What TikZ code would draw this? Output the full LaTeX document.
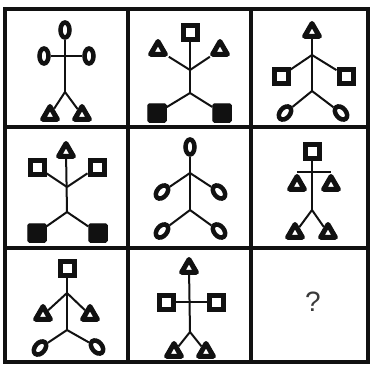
\documentclass[tikz,border=0pt]{standalone}
\usepackage{fontspec}
\newfontfamily\qfont{Liberation Sans}
\usepackage{xcolor}
\usetikzlibrary{shapes.geometric}
\definecolor{InkBlack}{HTML}{111111}
\definecolor{QGray}{HTML}{3a3a3a}

\begin{document}
\begin{tikzpicture}[
    x=1pt, y=-1pt,
    grid/.style={draw=InkBlack, line width=4.5pt},
    stem/.style={draw=InkBlack, line width=2pt},
    oval/.style={ellipse, draw=InkBlack, line width=4.5pt, fill=white, inner sep=0pt,
                 minimum width=9pt, minimum height=15pt},
    ovalL/.style={oval, minimum width=10pt, rotate=-40},
    ovalR/.style={oval, minimum width=10pt, rotate=40},
    sqbox/.style={rectangle, draw=InkBlack, line width=5pt, fill=white, inner sep=0pt,
                  minimum size=14pt},
    blkbox/.style={rectangle, rounded corners=1.5pt, draw=InkBlack, fill=InkBlack,
                   line width=1pt, inner sep=0pt, minimum size=18.5pt},
    tri/.style={regular polygon, regular polygon sides=3, draw=InkBlack, line width=5pt,
                line join=round, fill=white, inner sep=0pt, minimum size=17pt},
    qmark/.style={font=\qfont\fontsize{28}{30}\selectfont, text=QGray}
]
\useasboundingbox (0,0) rectangle (371,364);

\draw[grid] (5,9) rectangle (368,362);
\draw[grid] (128,9) -- (128,362);
\draw[grid] (251,9) -- (251,362);
\draw[grid] (5,127) -- (368,127);
\draw[grid] (5,248) -- (368,248);

% row 1
\node[oval] (o1t) at (65,30) {};
\node[oval] (o1l) at (44,56) {};
\node[oval] (o1r) at (89,56) {};
\coordinate (j1) at (65,92);
\node[tri] (t1l) at (50,115) {};
\node[tri] (t1r) at (82,115) {};
\draw[stem] (o1l) -- (o1r);
\draw[stem] (o1t) -- (j1);
\draw[stem] (j1) -- (t1l);
\draw[stem] (j1) -- (t1r);

\node[sqbox] (s2t) at (190,32) {};
\node[tri] (t2l) at (158,50) {};
\node[tri] (t2r) at (220,50) {};
\coordinate (j2a) at (190,70);
\coordinate (j2b) at (190,93);
\node[blkbox] (b2l) at (157,113) {};
\node[blkbox] (b2r) at (222,113) {};
\draw[stem] (s2t) -- (j2b);
\draw[stem] (j2a) -- (t2l);
\draw[stem] (j2a) -- (t2r);
\draw[stem] (j2b) -- (b2l);
\draw[stem] (j2b) -- (b2r);

\node[tri] (t3t) at (312,32) {};
\coordinate (j3a) at (312,55);
\coordinate (j3b) at (312,91);
\node[sqbox] (s3l) at (281,76) {};
\node[sqbox] (s3r) at (346,76) {};
\node[ovalL] (o3l) at (285,113) {};
\node[ovalR] (o3r) at (341,113) {};
\draw[stem] (t3t) -- (j3b);
\draw[stem] (j3a) -- (s3l);
\draw[stem] (j3a) -- (s3r);
\draw[stem] (j3b) -- (o3l);
\draw[stem] (j3b) -- (o3r);

% row 2
\node[tri] (t4t) at (66,152) {};
\node[sqbox] (s4l) at (37,167) {};
\node[sqbox] (s4r) at (97,167) {};
\coordinate (j4a) at (67,187);
\coordinate (j4b) at (67,212);
\node[blkbox] (b4l) at (37,233) {};
\node[blkbox] (b4r) at (98,233) {};
\draw[stem] (t4t) -- (j4b);
\draw[stem] (j4a) -- (s4l);
\draw[stem] (j4a) -- (s4r);
\draw[stem] (j4b) -- (b4l);
\draw[stem] (j4b) -- (b4r);

\node[oval] (o5t) at (190,147) {};
\coordinate (j5a) at (190,173);
\coordinate (j5b) at (190,210);
\node[ovalL] (o5a) at (162,192) {};
\node[ovalR] (o5b) at (219,192) {};
\node[ovalL] (o5c) at (162,231) {};
\node[ovalR] (o5d) at (219,231) {};
\draw[stem] (o5t) -- (j5b);
\draw[stem] (j5a) -- (o5a);
\draw[stem] (j5a) -- (o5b);
\draw[stem] (j5b) -- (o5c);
\draw[stem] (j5b) -- (o5d);

\node[sqbox] (s6t) at (312,151) {};
\node[tri] (t6l) at (297,185) {};
\node[tri] (t6r) at (331,185) {};
\coordinate (j6) at (312,210);
\node[tri] (t6c) at (295,233) {};
\node[tri] (t6d) at (328,233) {};
\draw[stem] (t6l.corner 1) -- (t6r.corner 1);
\draw[stem] (s6t) -- (j6);
\draw[stem] (j6) -- (t6c);
\draw[stem] (j6) -- (t6d);

% row 3
\node[sqbox] (s7t) at (67,268) {};
\coordinate (j7a) at (67,293);
\coordinate (j7b) at (67,330);
\node[tri] (t7l) at (43,315) {};
\node[tri] (t7r) at (90,315) {};
\node[ovalL] (o7l) at (40,348) {};
\node[ovalR] (o7r) at (97,347) {};
\draw[stem] (s7t) -- (j7b);
\draw[stem] (j7a) -- (t7l);
\draw[stem] (j7a) -- (t7r);
\draw[stem] (j7b) -- (o7l);
\draw[stem] (j7b) -- (o7r);

\node[tri] (t8t) at (189,268) {};
\node[sqbox] (s8l) at (166,302) {};
\node[sqbox] (s8r) at (216,302) {};
\coordinate (j8) at (190,332);
\node[tri] (t8l) at (174,352) {};
\node[tri] (t8r) at (206,352) {};
\draw[stem] (s8l) -- (s8r);
\draw[stem] (t8t) -- (j8);
\draw[stem] (j8) -- (t8l);
\draw[stem] (j8) -- (t8r);

\node[qmark] (q9) at (313,302) {?};

\end{tikzpicture}
\end{document}
